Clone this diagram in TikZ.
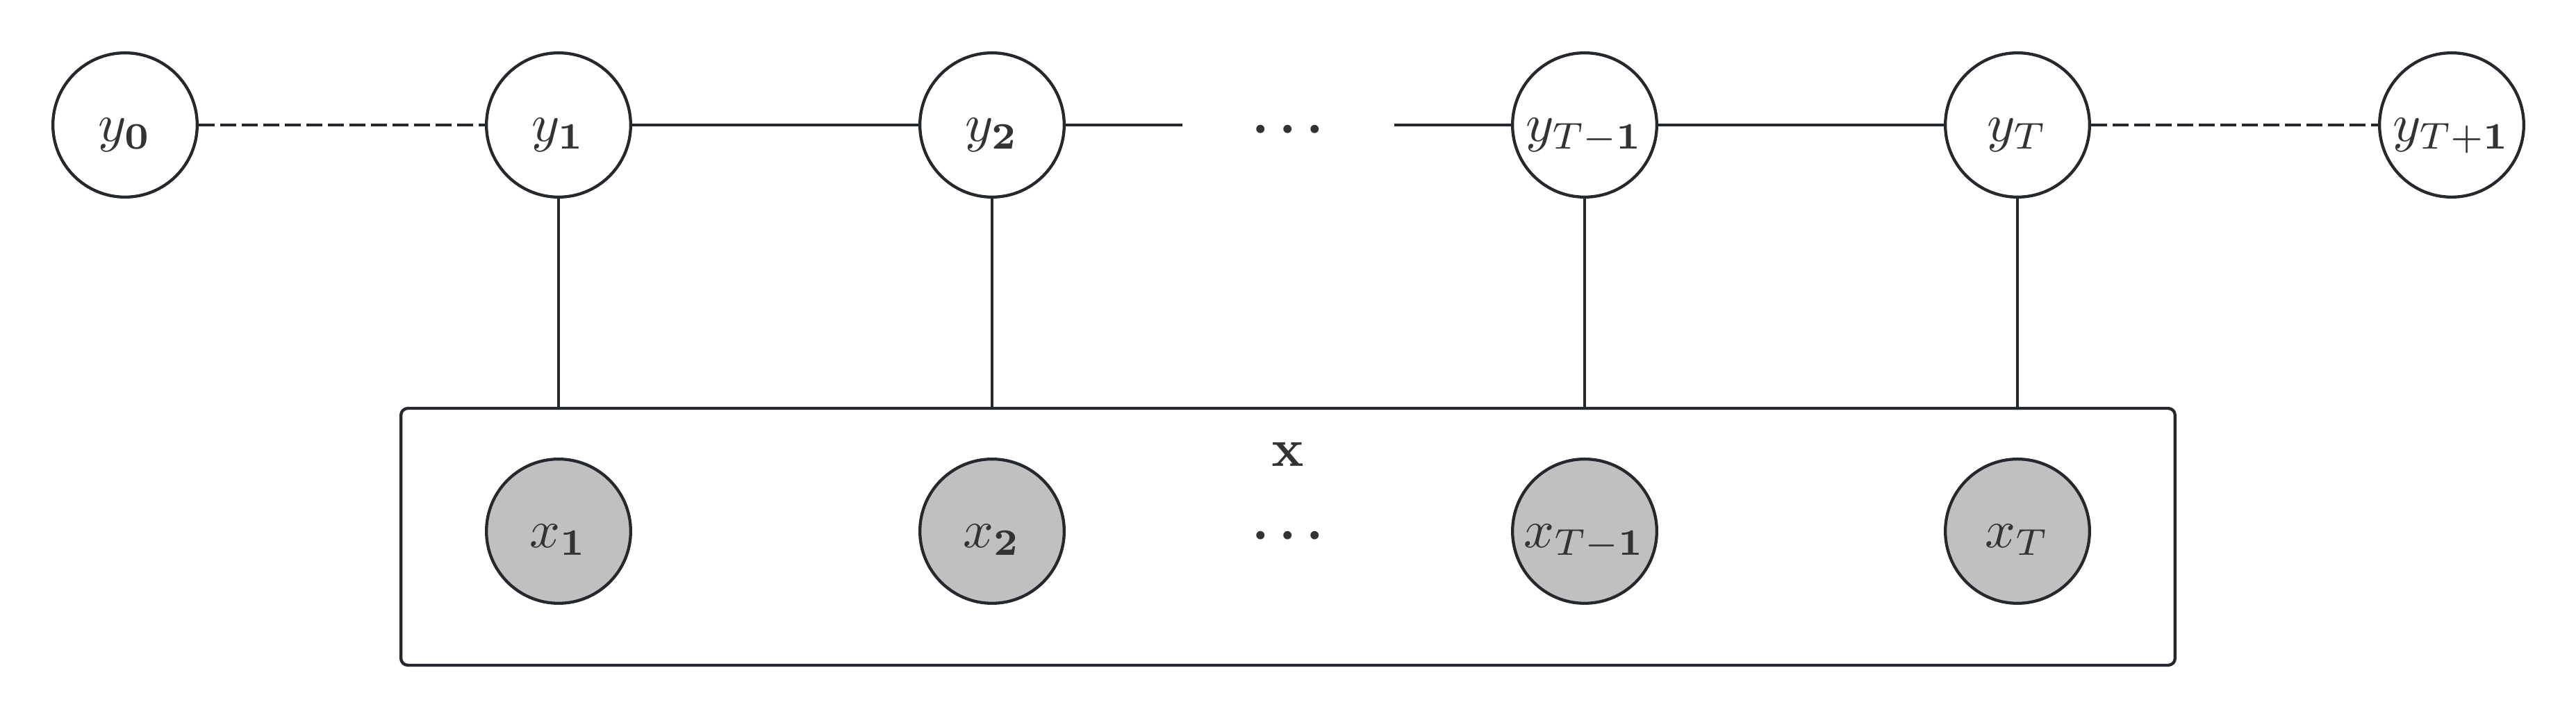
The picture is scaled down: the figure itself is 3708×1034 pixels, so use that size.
\documentclass[tikz,border=0pt]{standalone}
\usepackage{amsmath}
\definecolor{strk}{HTML}{25292E}
\definecolor{txt}{HTML}{333333}
\definecolor{obsfill}{HTML}{C0C0C0}
\begin{document}
\begin{tikzpicture}[x=0.13pt,y=-0.13pt,
  var/.style={circle,draw=strk,line width=0.56pt,minimum size=27pt,inner sep=0pt,
              text=txt,font=\fontsize{10.4}{12}\selectfont,
              text height=0.8em,text depth=0.2em,fill=white},
  obs/.style={var,fill=obsfill},
  edge/.style={draw=strk,line width=0.56pt},
  dashedge/.style={edge,dash pattern=on 2.95pt off 1.08pt},
  plate/.style={draw=strk,line width=0.56pt,rounded corners=1.3pt,inner sep=0pt,
                minimum width=332pt,minimum height=48.1pt},
  lbl/.style={text=txt,inner sep=0pt,font=\fontsize{10.4}{12}\selectfont}]
\useasboundingbox (0,0) rectangle (3708,1034);
% plate
\node[plate] (plate) at (1854,773) {};
\node[lbl] (xlab) at (1854,654) {$\mathbf{x}$};
% latent chain
\node[var] (y0) at (180,180) {$y_{\mathbf{0}}$};
\node[var] (y1) at (804,180) {$y_{\mathbf{1}}$};
\node[var] (y2) at (1428,180) {$y_{\mathbf{2}}$};
\node[lbl,anchor=base] (ydots) at (1861,206) {$\boldsymbol{\cdots}$};
\node[var] (yTm) at (2281,180) {$y_{T-\mathbf{1}}$};
\node[var] (yT) at (2904,180) {$y_{T}$};
\node[var] (yTp) at (3529,180) {$y_{T+\mathbf{1}}$};
% observed
\node[obs] (x1) at (804,765) {$x_{\mathbf{1}}$};
\node[obs] (x2) at (1428,765) {$x_{\mathbf{2}}$};
\node[lbl,anchor=base] (xdots) at (1861,791) {$\boldsymbol{\cdots}$};
\node[obs] (xTm) at (2281,765) {$x_{T-\mathbf{1}}$};
\node[obs] (xT) at (2904,765) {$x_{T}$};
% free ends of the chain around the dots
\coordinate (cl) at (1702,180);
\coordinate (cr) at (2007,180);
% connectors
\draw[dashedge] (y0) -- (y1);
\draw[edge] (y1) -- (y2);
\draw[edge] (y2.east) -- (cl);
\draw[edge] (cr) -- (yTm.west);
\draw[edge] (yTm) -- (yT);
\draw[dashedge] (yT) -- (yTp);
\draw[edge] (y1.south) -- (y1.south |- plate.north);
\draw[edge] (y2.south) -- (y2.south |- plate.north);
\draw[edge] (yTm.south) -- (yTm.south |- plate.north);
\draw[edge] (yT.south) -- (yT.south |- plate.north);
\end{tikzpicture}
\end{document}
